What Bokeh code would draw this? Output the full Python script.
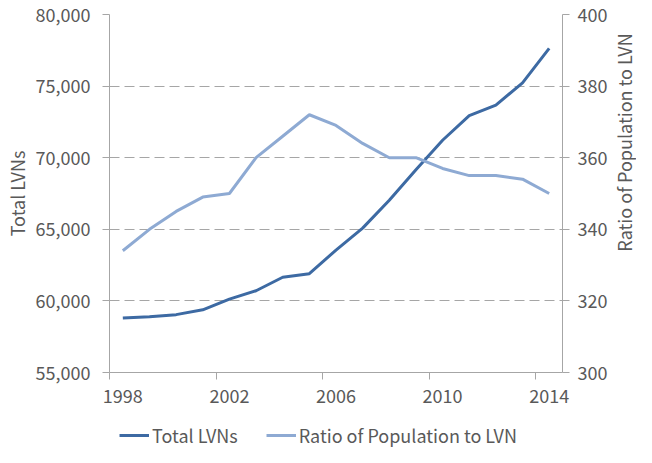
import math
from bokeh.plotting import figure
from bokeh.layouts import column, row
from bokeh.models import (Range1d, LinearAxis, FixedTicker, NumeralTickFormatter,
                          Legend, LegendItem, Label)
from bokeh.embed import file_html
from bokeh.resources import INLINE

years = list(range(1998, 2015))
total_lvns = [58810, 58900, 59040, 59380, 60120, 60710, 61650, 61900, 63550,
              65080, 67030, 69160, 71220, 72940, 73670, 75230, 77630]
ratio_pop_lvn = [334, 340, 345, 349, 350, 360, 366, 372, 369, 364, 360, 360,
                 357, 355, 355, 354, 350]
x_tick_labels = [1998, 2002, 2006, 2010, 2014]
left_ticks = [55000, 60000, 65000, 70000, 75000, 80000]
right_ticks = [300, 320, 340, 360, 380, 400]
series_names = ["Total LVNs", "Ratio of Population to LVN"]

FONT = "Noto Sans CJK JP"
TXT = "#595959"
AX = "#a6a6a6"
DARK = "#3d6aa3"
LIGHT = "#8eaad3"
FS = "18px"

MAIN_W, MAIN_H = 610, 423
TOP, BOTTOM = 14, 51
SIDE_W = 636 - MAIN_W

p = figure(width=MAIN_W, height=MAIN_H, output_backend="svg", toolbar_location=None,
           x_range=Range1d(years[0] - 0.5, years[-1] + 0.5),
           y_range=Range1d(left_ticks[0], left_ticks[-1]),
           min_border_left=104, min_border_right=44, min_border_top=TOP,
           min_border_bottom=BOTTOM)
p.outline_line_color = None
p.background_fill_color = "white"
p.border_fill_color = "white"
p.extra_y_ranges = {"r": Range1d(right_ticks[0], right_ticks[-1])}

p.line(years, total_lvns, line_color=DARK, line_width=3)
p.line(years, ratio_pop_lvn, line_color=LIGHT, line_width=3, y_range_name="r")


def style_text(a):
    a.major_label_text_font = FONT
    a.major_label_text_font_size = FS
    a.major_label_text_color = TXT
    a.axis_label_text_font = FONT
    a.axis_label_text_font_size = FS
    a.axis_label_text_color = TXT
    a.axis_label_text_font_style = "normal"


# x axis
xa = p.xaxis[0]
style_text(xa)
xa.ticker = FixedTicker(ticks=x_tick_labels,
                        minor_ticks=[y - 0.5 for y in x_tick_labels])
xa.major_tick_line_color = None
xa.major_tick_out = 7
xa.minor_tick_line_color = AX
xa.minor_tick_out = 7
xa.minor_tick_in = 0
xa.axis_line_color = AX
xa.major_label_standoff = 9
p.xgrid.grid_line_color = None

# left axis
ya = p.yaxis[0]
style_text(ya)
ya.ticker = FixedTicker(ticks=left_ticks)
ya.formatter = NumeralTickFormatter(format="0,0")
ya.axis_label = series_names[0]
ya.minor_tick_line_color = None
ya.major_tick_line_color = AX
ya.major_tick_out = 7
ya.major_tick_in = 0
ya.axis_line_color = AX
ya.major_label_standoff = 12
ya.axis_label_standoff = 3

# right axis (its title is drawn in the strip to the right)
ra = LinearAxis(y_range_name="r", ticker=FixedTicker(ticks=right_ticks))
style_text(ra)
ra.minor_tick_line_color = None
ra.major_tick_line_color = AX
ra.major_tick_out = 7
ra.major_tick_in = 0
ra.axis_line_color = AX
ra.major_label_standoff = 8
p.add_layout(ra, "right")

p.ygrid.ticker = FixedTicker(ticks=left_ticks)
p.ygrid.grid_line_color = AX
p.ygrid.grid_line_dash = "10 5"
p.ygrid.grid_line_width = 1

# right-hand title strip, text reading bottom to top
p3 = figure(width=SIDE_W, height=MAIN_H, output_backend="svg", toolbar_location=None,
            x_axis_location=None, y_axis_location=None, min_border=0)
p3.outline_line_color = None
p3.grid.visible = False
frame_mid_from_bottom = BOTTOM + (MAIN_H - TOP - BOTTOM) / 2
p3.add_layout(Label(x=SIDE_W / 2, y=frame_mid_from_bottom, x_units="screen",
                    y_units="screen", text="Ratio of Population to LVN",
                    angle=math.pi / 2, text_align="center", text_baseline="middle",
                    text_font=FONT, text_font_size=FS, text_color=TXT))

# legend strip below the chart
p2 = figure(width=636, height=24, output_backend="svg", toolbar_location=None,
            x_axis_location=None, y_axis_location=None, min_border=0,
            x_range=Range1d(years[0], years[-1]), y_range=Range1d(0, 1))
p2.outline_line_color = None
p2.grid.visible = False
l1 = p2.line(years, total_lvns, line_color=DARK, line_width=3)
l2 = p2.line(years, ratio_pop_lvn, line_color=LIGHT, line_width=3)
legend = Legend(items=[LegendItem(label=series_names[0], renderers=[l1]),
                       LegendItem(label=series_names[1], renderers=[l2])],
                orientation="horizontal", location="center",
                glyph_width=30, glyph_height=20, label_height=20,
                label_standoff=3, spacing=28, padding=0, margin=0,
                background_fill_alpha=0, border_line_color=None,
                label_text_font=FONT, label_text_font_size=FS,
                label_text_color=TXT)
p2.add_layout(legend, "center")

open("out.html", "w").write(file_html(column(row(p, p3), p2), INLINE))
